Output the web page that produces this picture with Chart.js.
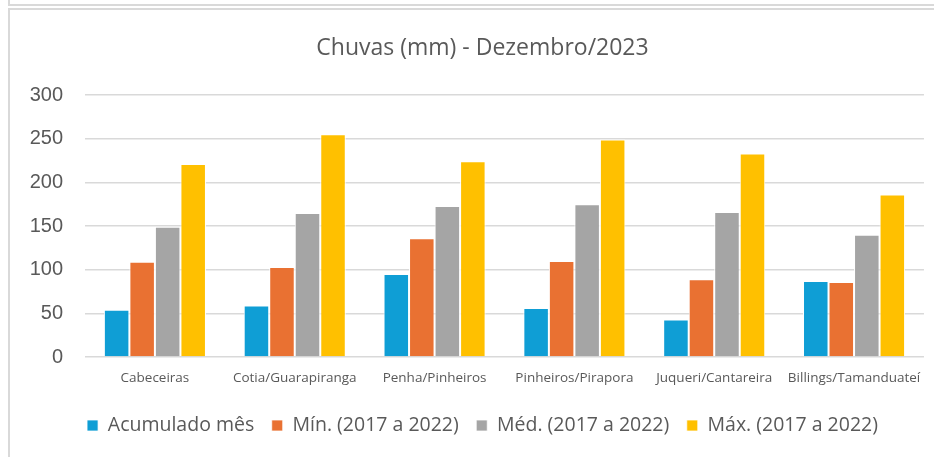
<!DOCTYPE html>
<html>
<head>
<meta charset="utf-8">
<script src="https://cdn.jsdelivr.net/npm/chart.js@4/dist/chart.umd.min.js"></script>
<style>
  html, body { margin: 0; padding: 0; background: #ffffff; }
  #wrap { position: relative; width: 934px; height: 457px; overflow: hidden; }
  #c { position: absolute; left: 0; top: 0; }
  .ln { position: absolute; background: #d9d9d9; pointer-events: none; }
</style>
</head>
<body>
<div id="wrap">
  <canvas id="c" width="934" height="457"></canvas>
  <div class="ln" style="left:8px; top:0; width:2px; height:6px;"></div>
  <div class="ln" style="left:8px; top:4px; width:926px; height:2px;"></div>
  <div class="ln" style="left:8px; top:8px; width:926px; height:2px;"></div>
  <div class="ln" style="left:8px; top:8px; width:2px; height:449px;"></div>
</div>
<script>
const categories = ["Cabeceiras", "Cotia/Guarapiranga", "Penha/Pinheiros", "Pinheiros/Pirapora", "Juqueri/Cantareira", "Billings/Tamanduateí"];
const seriesNames = ["Acumulado mês", "Mín. (2017 a 2022)", "Méd. (2017 a 2022)", "Máx. (2017 a 2022)"];
const acumuladoMes = [54, 59, 95, 56, 43, 87];
const minimo = [109, 103, 136, 110, 89, 86];
const media = [149, 165, 173, 175, 166, 140];
const maximo = [221, 255, 224, 249, 233, 186];
const yTicks = [0, 50, 100, 150, 200, 250, 300];
const titleText = "Chuvas (mm) - Dezembro/2023";

const colors = ["#0F9ED5", "#E97132", "#A5A5A5", "#FFC000"];
const seriesValues = [acumuladoMes, minimo, media, maximo];
const FONT = "'Open Sans', 'Liberation Sans', sans-serif";
const TXT = "#595959";

// shift title and legend boxes so they are centred like the reference
const shiftBoxes = {
  id: 'shiftBoxes',
  afterLayout(chart) {
    if (chart.titleBlock) chart.titleBlock.left = 40;
    if (chart.legend) chart.legend.left = 40;
  }
};

new Chart(document.getElementById('c'), {
  type: 'bar',
  data: {
    labels: categories,
    datasets: seriesNames.map((n, i) => ({
      label: n,
      data: seriesValues[i],
      backgroundColor: colors[i],
      borderColor: '#ffffff',
      borderWidth: { left: 1, right: 1, top: 1, bottom: 0 },
      categoryPercentage: 0.73,
      barPercentage: 1.0
    }))
  },
  plugins: [shiftBoxes],
  options: {
    responsive: false,
    animation: false,
    devicePixelRatio: 1,
    layout: { padding: { left: 0, right: 9, top: 0, bottom: 11.75 } },
    plugins: {
      title: {
        display: true,
        text: titleText,
        color: TXT,
        font: { family: FONT, size: 23, weight: 'normal', lineHeight: 1.2 },
        padding: { top: 34.2, bottom: 33.2 }
      },
      legend: {
        position: 'bottom',
        labels: {
          color: TXT,
          font: { family: FONT, size: 19.5 },
          boxWidth: 11,
          boxHeight: 11,
          padding: 17.5
        }
      },
      tooltip: { enabled: false }
    },
    scales: {
      x: {
        grid: { display: false, drawTicks: false },
        border: { display: false },
        ticks: { color: TXT, font: { family: FONT, size: 13.5 }, padding: 13, maxRotation: 0, autoSkip: false },
        afterFit: (s) => { s.height = 41.25; }
      },
      y: {
        min: 0, max: 300,
        afterBuildTicks: (s) => { s.ticks = yTicks.map(v => ({ value: v })); },
        grid: { color: '#d9d9d9', lineWidth: 1.5, drawTicks: false },
        border: { display: false },
        ticks: { color: TXT, font: { family: "'Liberation Sans', Arial, sans-serif", size: 20 }, padding: 22 },
        afterFit: (s) => { s.width = 85; }
      }
    }
  }
});
</script>
</body>
</html>
